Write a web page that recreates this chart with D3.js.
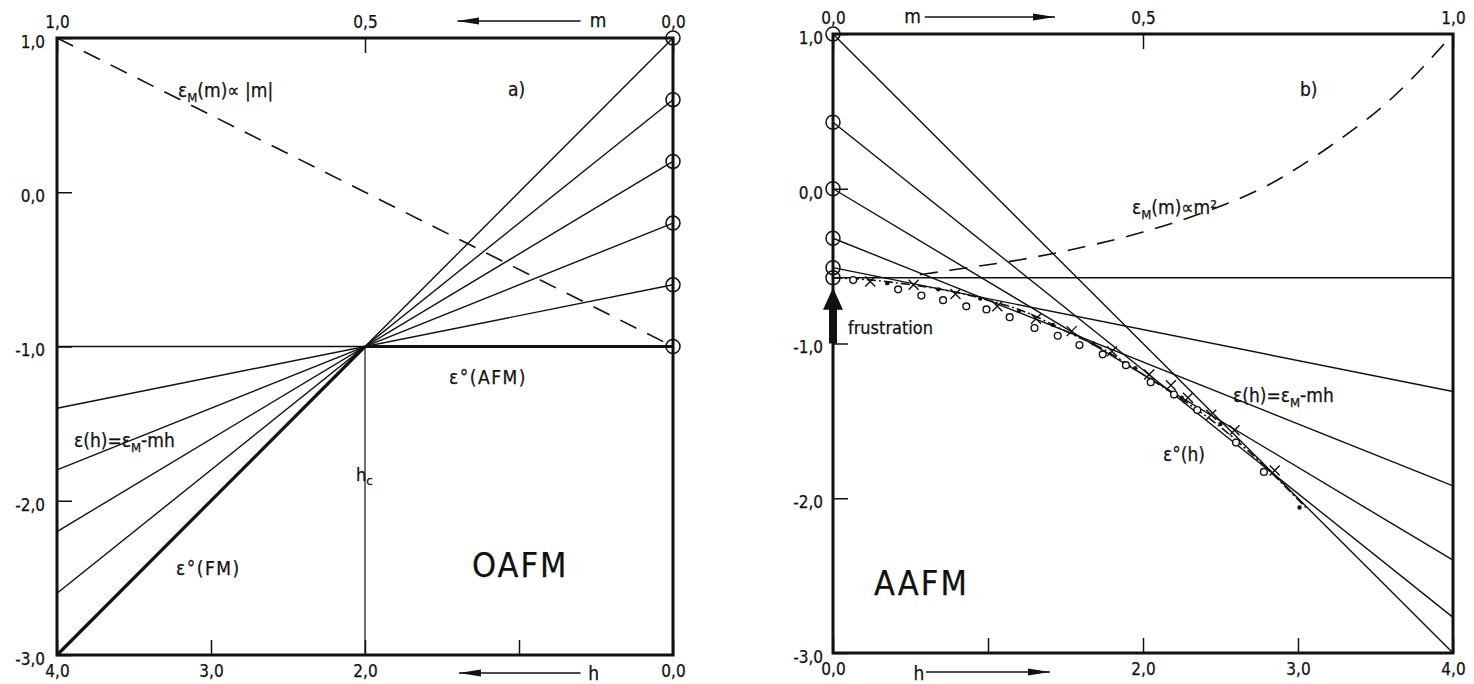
<!DOCTYPE html>
<html>
<head>
<meta charset="utf-8">
<script src="https://cdn.jsdelivr.net/npm/d3@7"></script>
<style>
  body { margin: 0; background: #fff; }
  text { font-family: "DejaVu Sans Condensed", "DejaVu Sans", sans-serif; fill: #111; stroke: #111; stroke-width: 0.25; }
</style>
</head>
<body>
<svg></svg>
<script>
const width = 1474;
const height = 684;

// ---- values ----
// m of the plotted ε(h) lines, and ε_M(m) where each line meets h = 0 (the circles)
const mValues = [0, 0.2, 0.4, 0.6, 0.8, 1.0];
const epsM_OAFM = [-1.0, -0.6, -0.2, 0.2, 0.6, 1.0];
const epsM_AAFM = [-0.575, -0.51, -0.32, 0.0, 0.43, 1.0];
const hCrit = 2.0;

// dashed ε_M(m) ∝ |m| (panel a) end points
const linM = [1.0, 0.0];
const linE = [1.0, -1.0];

// dashed ε_M(m) ∝ m² (panel b)
const quadM = [0.14, 0.2, 0.3, 0.4, 0.5, 0.6, 0.7, 0.8, 0.9, 1.0];
const quadE = [-0.556, -0.52, -0.46, -0.38, -0.28, -0.15, 0.02, 0.27, 0.58, 1.0];

// ground state ε°(h) of AAFM (dash-dot curve)
const groundH = [0, 0.25, 0.5, 0.75, 1.0, 1.25, 1.5, 1.75, 2.0, 2.25, 2.5, 2.75, 3.05];
const groundE = [-0.575, -0.59, -0.62, -0.66, -0.72, -0.8, -0.92, -1.04, -1.2, -1.36, -1.54, -1.76, -2.06];

// simulation points [h, ε]
const circlePts = [[0.13,-0.59],[0.42,-0.65],[0.57,-0.69],[0.71,-0.72],[0.86,-0.76],[0.99,-0.78],
  [1.14,-0.83],[1.30,-0.90],[1.45,-0.95],[1.59,-1.01],[1.74,-1.07],[1.89,-1.14],[2.05,-1.25],
  [2.2,-1.33],[2.35,-1.43],[2.6,-1.64],[2.78,-1.83]];
const crossPts = [[0.24,-0.6],[0.52,-0.62],[0.79,-0.68],[1.06,-0.76],[1.31,-0.84],[1.54,-0.92],
  [1.8,-1.05],[2.04,-1.2],[2.18,-1.27],[2.29,-1.35],[2.44,-1.46],[2.59,-1.56],[2.85,-1.82]];
const dotPts = [[0.35,-0.61],[0.68,-0.65],[0.95,-0.71],[1.2,-0.79],[1.42,-0.88],[1.68,-1.0],
  [1.95,-1.16],[2.25,-1.35],[2.5,-1.52],[3.01,-2.06]];

// tick values
const eTicks = [1, 0, -1, -2, -3];
const hTicks = [0, 1, 2, 3, 4];
const mTicks = [0, 0.5, 1];

const svg = d3.select("svg")
  .attr("width", width)
  .attr("height", height);

const defs = svg.append("defs");
defs.append("marker")
  .attr("id", "head")
  .attr("viewBox", "0 0 22 8")
  .attr("refX", 22).attr("refY", 4)
  .attr("markerWidth", 22).attr("markerHeight", 8)
  .attr("markerUnits", "userSpaceOnUse")
  .attr("orient", "auto")
  .append("path")
  .attr("d", "M0,0.5 L22,4 L0,7.5 Z")
  .attr("fill", "#111");

const fmt = d => d3.format(".1f")(d).replace(".", ",").replace("\u2212", "-");

const panelA = {
  h: d3.scaleLinear().domain([4, 0]).range([57, 673]),
  m: d3.scaleLinear().domain([1, 0]).range([57, 673]),
  y: d3.scaleLinear().domain([1, -3]).range([38, 655])
};
const panelB = {
  h: d3.scaleLinear().domain([0, 4]).range([833, 1453]),
  m: d3.scaleLinear().domain([0, 1]).range([833, 1453]),
  y: d3.scaleLinear().domain([1, -3]).range([34, 653])
};

function styleAxis(sel) {
  sel.attr("font-size", 17);
  sel.select(".domain").remove();
  sel.selectAll(".tick line").attr("stroke", "#111").attr("stroke-width", 1.5);
}

function axes(g, p, hideH, leftPad, sideEdge) {
  const [x0, x1] = p.h.range().slice().sort((a, b) => a - b);
  const [y0, y1] = p.y.range();

  g.append("g")
    .attr("transform", `translate(0,${y0})`)
    .call(d3.axisTop(p.m).tickValues(mTicks).tickSize(-15).tickPadding(10).tickFormat(fmt))
    .call(styleAxis);

  g.append("g")
    .attr("transform", `translate(0,${y1})`)
    .call(d3.axisBottom(p.h).tickValues(hTicks).tickSize(-15).tickPadding(10)
      .tickFormat(d => d === hideH ? "" : fmt(d)))
    .call(styleAxis);

  g.append("g")
    .attr("transform", `translate(${sideEdge},0)`)
    .call(d3.axisLeft(p.y).tickValues(eTicks).tickSize(-15).tickPadding(leftPad).tickFormat(fmt))
    .call(styleAxis)
    .selectAll("text").attr("dy", "0.55em");

  // frame
  g.append("rect")
    .attr("x", x0).attr("y", y0)
    .attr("width", x1 - x0).attr("height", y1 - y0)
    .attr("fill", "none").attr("stroke", "#111").attr("stroke-width", 3);
}

function sub(base, s, rest) {
  return `${base}<tspan dy="5" font-size="13">${s}</tspan><tspan dy="-5">${rest}</tspan>`;
}

function arrow(g, xa, ya, xb, yb) {
  g.append("line")
    .attr("x1", xa).attr("y1", ya).attr("x2", xb).attr("y2", yb)
    .attr("stroke", "#111").attr("stroke-width", 1.5)
    .attr("marker-end", "url(#head)");
}

const lineGen = p => d3.line().x(d => p.h(d[0])).y(d => p.y(d[1]));

// ================= panel a) OAFM =================
const gA = svg.append("g");
const A = panelA;

// ε(h) = ε_M - m h lines
mValues.forEach((m, i) => {
  const e0 = epsM_OAFM[i];
  gA.append("path")
    .attr("d", lineGen(A)([[0, e0], [4, e0 - 4 * m]]))
    .attr("fill", "none").attr("stroke", "#111").attr("stroke-width", 1.4);
});

// dashed ε_M(m) ∝ |m|
gA.append("path")
  .attr("d", d3.line().x(d => A.m(d[0])).y(d => A.y(d[1]))(linM.map((m, i) => [m, linE[i]])))
  .attr("fill", "none").attr("stroke", "#111").attr("stroke-width", 1.6)
  .attr("stroke-dasharray", "18,12");

// h_c vertical line
gA.append("line")
  .attr("x1", A.h(hCrit)).attr("x2", A.h(hCrit))
  .attr("y1", A.y(-1)).attr("y2", A.y(-3))
  .attr("stroke", "#111").attr("stroke-width", 1.2);

// ground states: ε°(AFM) and ε°(FM)
gA.append("path")
  .attr("d", lineGen(A)([[0, epsM_OAFM[0]], [hCrit, epsM_OAFM[0]]]))
  .attr("stroke", "#111").attr("stroke-width", 3).attr("fill", "none");
gA.append("path")
  .attr("d", lineGen(A)([[hCrit, epsM_OAFM[5] - hCrit * mValues[5]], [4, epsM_OAFM[5] - 4 * mValues[5]]]))
  .attr("stroke", "#111").attr("stroke-width", 3.2).attr("fill", "none");

axes(gA, A, 1, 12, 57);

gA.selectAll("circle.em")
  .data(epsM_OAFM)
  .enter().append("circle")
  .attr("class", "em")
  .attr("cx", A.h(0)).attr("cy", d => A.y(d)).attr("r", 7)
  .attr("fill", "none").attr("stroke", "#111").attr("stroke-width", 1.5);

arrow(gA, A.m(0.15), 21, A.m(0.35), 21);
gA.append("text").attr("x", A.m(0.135)).attr("y", 27).attr("font-size", 19).text("m");
arrow(gA, A.h(0.6), 673, A.h(1.39), 673);
gA.append("text").attr("x", A.h(0.55)).attr("y", 680).attr("font-size", 19).text("h");

gA.append("text").attr("x", 178).attr("y", 97).attr("font-size", 19)
  .html(sub("ε", "M", "(m)∝ |m|"));
gA.append("text").attr("x", 508).attr("y", 96).attr("font-size", 19).text("a)");
gA.append("text").attr("x", 449).attr("y", 384).attr("font-size", 19)
  .attr("letter-spacing", 1.5).text("ε°(AFM)");
gA.append("text").attr("x", 74).attr("y", 447).attr("font-size", 19)
  .html(sub("ε(h)=ε", "M", "-mh"));
gA.append("text").attr("x", 356).attr("y", 481).attr("font-size", 18)
  .html(`h<tspan dy="4" font-size="13">c</tspan>`);
gA.append("text").attr("x", 176).attr("y", 575).attr("font-size", 19)
  .attr("letter-spacing", 1.5).text("ε°(FM)");
gA.append("text").attr("x", 472).attr("y", 577).attr("font-size", 34)
  .attr("letter-spacing", 2).text("OAFM");

// ================= panel b) AAFM =================
const gB = svg.append("g");
const B = panelB;

mValues.forEach((m, i) => {
  const e0 = epsM_AAFM[i];
  gB.append("path")
    .attr("d", lineGen(B)([[0, e0], [4, e0 - 4 * m]]))
    .attr("fill", "none").attr("stroke", "#111").attr("stroke-width", 1.4);
});

// dashed ε_M(m) ∝ m²
gB.append("path")
  .attr("d", d3.line().curve(d3.curveMonotoneX).x(d => B.m(d[0])).y(d => B.y(d[1]))(quadM.map((m, i) => [m, quadE[i]])))
  .attr("fill", "none").attr("stroke", "#111").attr("stroke-width", 1.6)
  .attr("stroke-dasharray", "18,12");

// ε°(h) dash-dot curve
gB.append("path")
  .attr("d", lineGen(B).curve(d3.curveMonotoneX)(groundH.map((h, i) => [h, groundE[i]])))
  .attr("fill", "none").attr("stroke", "#111").attr("stroke-width", 1.6)
  .attr("stroke-dasharray", "9,3,2,3");

// simulation markers
gB.selectAll("circle.pt")
  .data(circlePts)
  .enter().append("circle")
  .attr("class", "pt")
  .attr("cx", d => B.h(d[0])).attr("cy", d => B.y(d[1])).attr("r", 3.4)
  .attr("fill", "#fff").attr("stroke", "#111").attr("stroke-width", 1.4);

gB.selectAll("path.cross")
  .data(crossPts)
  .enter().append("path")
  .attr("class", "cross")
  .attr("d", d => {
    const x = B.h(d[0]), y = B.y(d[1]);
    return `M${x - 5},${y - 5}L${x + 5},${y + 5}M${x - 5},${y + 5}L${x + 5},${y - 5}`;
  })
  .attr("stroke", "#111").attr("stroke-width", 1.4);

gB.selectAll("circle.dot")
  .data(dotPts)
  .enter().append("circle")
  .attr("class", "dot")
  .attr("cx", d => B.h(d[0])).attr("cy", d => B.y(d[1])).attr("r", 2.2)
  .attr("fill", "#111");

axes(gB, B, 1, 10, 833);

gB.selectAll("circle.em")
  .data(epsM_AAFM)
  .enter().append("circle")
  .attr("class", "em")
  .attr("cx", B.h(0)).attr("cy", d => B.y(d)).attr("r", 7)
  .attr("fill", "none").attr("stroke", "#111").attr("stroke-width", 1.5);

// frustration arrow: from ε = -1 up toward the AAFM ground state at h = 0
{
  const x = B.h(0), yb = B.y(-1), yt = B.y(-0.64);
  gB.append("path")
    .attr("d", `M${x - 4},${yb}L${x - 4},${yt + 22}L${x - 10},${yt + 22}L${x},${yt}L${x + 10},${yt + 22}L${x + 4},${yt + 22}L${x + 4},${yb}Z`)
    .attr("fill", "#111");
}
gB.append("text").attr("x", 848).attr("y", 334).attr("font-size", 18).text("frustration");

arrow(gB, B.m(0.148), 17, B.m(0.358), 17);
gB.append("text").attr("x", B.m(0.115)).attr("y", 23).attr("font-size", 19).text("m");
arrow(gB, B.h(0.6), 672, B.h(1.4), 672);
gB.append("text").attr("x", B.h(0.52)).attr("y", 680).attr("font-size", 19).text("h");

gB.append("text").attr("x", 1300).attr("y", 96).attr("font-size", 19).text("b)");
gB.append("text").attr("x", 1132).attr("y", 214).attr("font-size", 19)
  .html(sub("ε", "M", "(m)∝m²"));
gB.append("text").attr("x", 1233).attr("y", 402).attr("font-size", 19)
  .html(sub("ε(h)=ε", "M", "-mh"));
gB.append("text").attr("x", 1163).attr("y", 461).attr("font-size", 19).text("ε°(h)");
gB.append("text").attr("x", 874).attr("y", 595).attr("font-size", 34)
  .attr("letter-spacing", 2).text("AAFM");
</script>
</body>
</html>
